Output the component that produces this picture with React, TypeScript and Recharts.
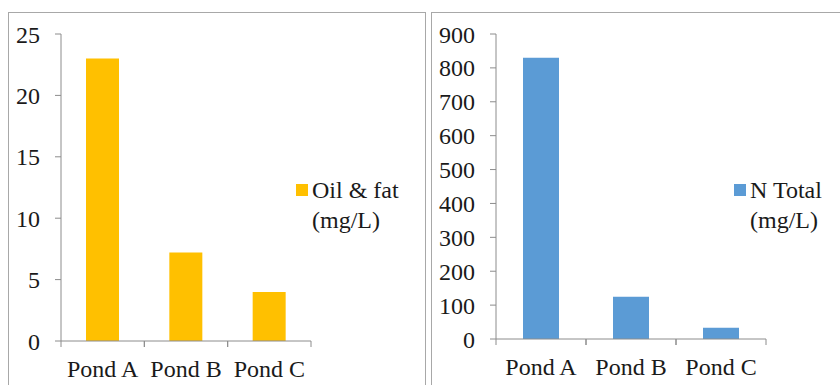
import React from "react";
import { BarChart, Bar, XAxis, YAxis } from "recharts";

const ponds = ["Pond A", "Pond B", "Pond C"];
const oilFat = [23, 7.2, 4];
const nTotal = [830, 125, 33];
const oilTicks = [0, 5, 10, 15, 20, 25];
const nTicks = [0, 100, 200, 300, 400, 500, 600, 700, 800, 900];

const FONT = "'Liberation Serif', 'Times New Roman', serif";
const AXIS = "#8c8c8c";
const TEXT = "#1a1a1a";
const FS = 24;

const oilData = ponds.map((pond, i) => ({ pond, value: oilFat[i] }));
const nData = ponds.map((pond, i) => ({ pond, value: nTotal[i] }));

// category label plus Excel-style tick marks between categories
function CategoryTick(props: any) {
  const { x, y, payload } = props;
  const half = payload?.offset ?? 0;
  return (
    <g>
      <line x1={x - half} y1={y} x2={x - half} y2={y + 6} stroke={AXIS} />
      <line x1={x + half} y1={y} x2={x + half} y2={y + 6} stroke={AXIS} />
      <text
        x={x}
        y={y + 19}
        dy="0.71em"
        textAnchor="middle"
        fill={TEXT}
        fontSize={FS}
        style={{ fontFamily: FONT }}
      >
        {payload.value}
      </text>
    </g>
  );
}

function LegendBox({ color, lines, left }: { color: string; lines: string[]; left: number }) {
  return (
    <div
      style={{
        position: "absolute",
        left,
        top: 162,
        fontFamily: FONT,
        fontSize: FS,
        lineHeight: "30px",
        color: TEXT,
      }}
    >
      <div style={{ display: "flex", alignItems: "center" }}>
        <span style={{ width: 12, height: 12, background: color, marginRight: 4 }} />
        <span>{lines[0]}</span>
      </div>
      <div style={{ paddingLeft: 16 }}>{lines[1]}</div>
    </div>
  );
}

const panel: React.CSSProperties = {
  position: "absolute",
  top: 12,
  height: 380,
  borderTop: "1.5px solid #a8a8a8",
  borderLeft: "1.5px solid #a8a8a8",
  borderRight: "1.5px solid #a8a8a8",
  background: "#fff",
};

const yTick = { fill: TEXT, fontSize: FS, style: { fontFamily: FONT } };

export default function App() {
  return (
    <div
      style={{
        position: "absolute",
        left: 0,
        top: 0,
        width: 840,
        height: 385,
        overflow: "hidden",
        background: "#fff",
        fontFamily: FONT,
      }}
    >
      <div style={{ ...panel, left: 8, width: 416 }}>
        <BarChart
          width={416}
          height={373}
          data={oilData}
          margin={{ top: 21, right: 114, bottom: 0, left: 0 }}
          barCategoryGap="30%"
        >
          <XAxis
            dataKey="pond"
            stroke={AXIS}
            tickLine={false}
            tickSize={0}
            tickMargin={0}
            tick={<CategoryTick />}
            height={45}
          />
          <YAxis
            domain={[0, 25]}
            ticks={oilTicks}
            stroke={AXIS}
            width={52}
            tickSize={6}
            tickMargin={15}
            tick={yTick}
          />
          <Bar dataKey="value" fill="#FFC000" isAnimationActive={false} />
        </BarChart>
        <LegendBox color="#FFC000" lines={["Oil & fat", "(mg/L)"]} left={287} />
      </div>

      <div style={{ ...panel, left: 431, width: 430 }}>
        <BarChart
          width={430}
          height={373}
          data={nData}
          margin={{ top: 21, right: 96, bottom: 0, left: 0 }}
          barCategoryGap="30%"
        >
          <XAxis
            dataKey="pond"
            stroke={AXIS}
            tickLine={false}
            tickSize={0}
            tickMargin={0}
            tick={<CategoryTick />}
            height={47}
          />
          <YAxis
            domain={[0, 900]}
            ticks={nTicks}
            stroke={AXIS}
            width={64}
            tickSize={6}
            tickMargin={15}
            tick={yTick}
          />
          <Bar dataKey="value" fill="#5B9BD5" isAnimationActive={false} />
        </BarChart>
        <LegendBox color="#5B9BD5" lines={["N Total", "(mg/L)"]} left={302} />
      </div>
    </div>
  );
}
